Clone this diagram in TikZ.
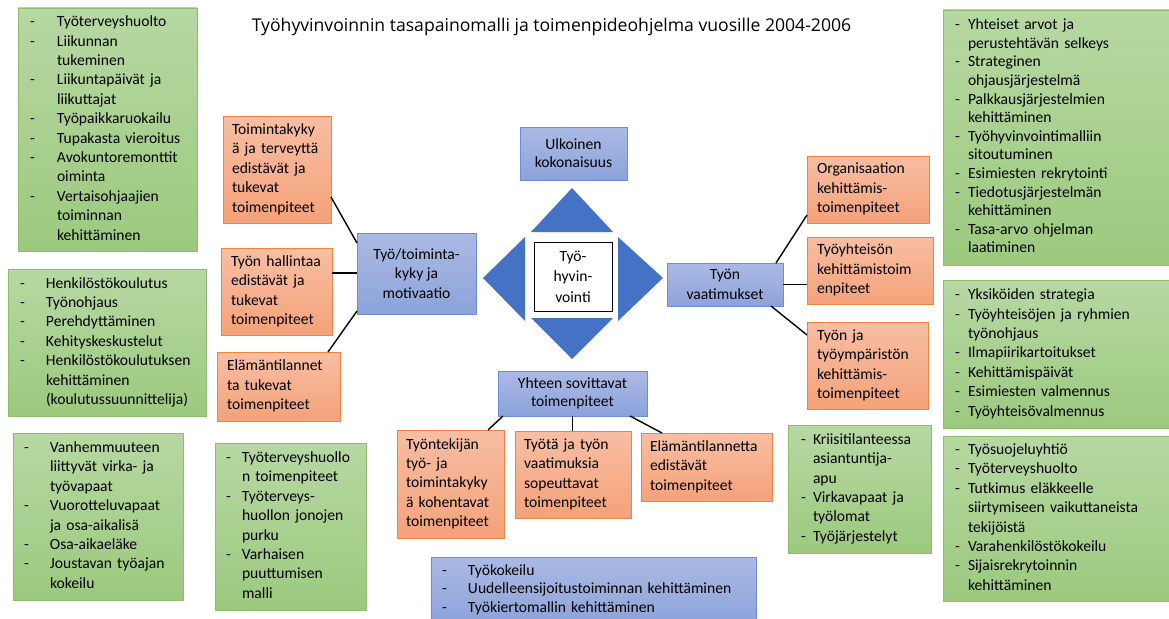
\documentclass[tikz,border=0pt]{standalone}
\usepackage{fontspec}
\setmainfont{Carlito}
\newfontfamily\titlefont{Open Sans}
\usetikzlibrary{calc}

\definecolor{grTop}{HTML}{B6D8A2}
\definecolor{grBot}{HTML}{9CC97E}
\definecolor{grLine}{HTML}{8DBE6E}
\definecolor{orTop}{HTML}{F8BEA3}
\definecolor{orBot}{HTML}{F4A279}
\definecolor{orLine}{HTML}{EF8440}
\definecolor{blTop}{HTML}{ABBAE4}
\definecolor{blBot}{HTML}{8CA3DA}
\definecolor{blLine}{HTML}{6D8DD3}
\definecolor{triFill}{HTML}{4472C4}

\newcommand\bodyfont{\fontsize{15.6}{19.4}\selectfont}
% list with a hanging dash column
\newcommand\dashlist[2]{\begin{tabular}{@{}p{#1}@{}l@{}}#2\end{tabular}}
\newcommand\lines[1]{\begin{tabular}{@{}l@{}}#1\end{tabular}}

\tikzset{
  box/.style={rectangle, inner ysep=0pt, outer sep=0pt, font=\bodyfont, line width=0.9pt},
  greenbox/.style={box, top color=grTop, bottom color=grBot, draw=grLine, align=left},
  orangebox/.style={box, top color=orTop, bottom color=orBot, draw=orLine, align=left},
  bluebox/.style={box, top color=blTop, bottom color=blBot, draw=blLine, align=center, inner xsep=2pt},
  corebox/.style={box, fill=white, draw=black, line width=0.8pt, align=center, inner xsep=2pt,
                  font=\fontsize{15.6}{20.5}\selectfont},
  conn/.style={draw=black, line width=1.4pt},
  tri/.style={fill=triFill},
}

\begin{document}
\begin{tikzpicture}[x=1pt,y=-1pt]
\useasboundingbox (0,0) rectangle (1169,618);
\fill[white] (0,0) rectangle (1169,618);

% title
\node[font=\titlefont\fontsize{17.6}{20}\selectfont] (title) at (551.5,27)
  {Työhyvinvoinnin tasapainomalli ja toimenpideohjelma vuosille 2004-2006};

% ---------- centre ----------
\fill[tri] (572,188) -- (531,232) -- (613,232) -- cycle;
\fill[tri] (572,359) -- (531,318) -- (613,318) -- cycle;
\fill[tri] (483,278) -- (525,237) -- (525,321) -- cycle;
\fill[tri] (663,278) -- (618,237) -- (618,321) -- cycle;
\node[corebox, minimum width=78, minimum height=69] (core) at (573,276.5) {Työ-\\hyvin-\\vointi};

% ---------- blue headings ----------
\node[bluebox, minimum width=107, minimum height=53, font=\fontsize{15.6}{18}\selectfont] (uk) at (573.5,153.5) {Ulkoinen\\kokonaisuus};
\node[bluebox, minimum width=119, minimum height=81] (bl) at (416.5,273.5) {Työ/toiminta-\\kyky ja\\motivaatio};
\node[bluebox, minimum width=116, minimum height=43] (br) at (725,284.5) {Työn\\vaatimukset};
\node[bluebox, minimum width=149, minimum height=45, font=\fontsize{15.6}{18.5}\selectfont] (yh) at (572.5,393.5) {Yhteen sovittavat\\toimenpiteet};

% ---------- orange measures ----------
\node[orangebox, minimum width=108, minimum height=107, text width=90, inner xsep=9] (o1) at (277,169.5)
  {\lines{Toimintakyky\\ä ja terveyttä\\edistävät ja\\tukevat\\toimenpiteet}};
\node[orangebox, minimum width=111, minimum height=87, text width=91, inner xsep=10] (o2) at (276.5,291.5)
  {\lines{Työn hallintaa\\edistävät ja\\tukevat\\toimenpiteet}};
\node[orangebox, minimum width=123, minimum height=69, text width=103, inner xsep=10] (o3) at (278.5,386.5)
  {\lines{Elämäntilannet\\ta tukevat\\toimenpiteet}};

\node[orangebox, minimum width=122, minimum height=67, text width=102, inner xsep=10] (r1) at (868,189.5)
  {\lines{Organisaation\\kehittämis-\\toimenpiteet}};
\node[orangebox, minimum width=126, minimum height=67, text width=106, inner xsep=10] (r2) at (870,270.5)
  {\lines{Työyhteisön\\kehittämistoim\\enpiteet}};
\node[orangebox, minimum width=121, minimum height=87, text width=101, inner xsep=10] (r3) at (867.5,365.5)
  {\lines{Työn ja\\työympäristön\\kehittämis-\\toimenpiteet}};

\node[orangebox, minimum width=107, minimum height=108, text width=89, inner xsep=9] (b1) at (450.5,484)
  {\lines{Työntekijän\\työ- ja\\toimintakyky\\ä kohentavat\\toimenpiteet}};
\node[orangebox, minimum width=116, minimum height=87, text width=98, inner xsep=9] (b2) at (573,474.5)
  {\lines{Työtä ja työn\\vaatimuksia\\sopeuttavat\\toimenpiteet}};
\node[orangebox, minimum width=131, minimum height=68, text width=113, inner xsep=9] (b3) at (706.5,467)
  {\lines{Elämäntilannetta\\edistävät\\toimenpiteet}};

% ---------- connectors ----------
\draw[conn] ([yshift=-27.5pt]o1.east) -- ([yshift=30.5pt]bl.west);
\draw[conn] ([yshift=18.5pt]o2.east) -- ([yshift=18.5pt]o2.east -| bl.west);
\draw[conn] ([xshift=-12pt]o3.north east) -- ([yshift=3pt]bl.south west);
\draw[conn] ([xshift=-7pt]br.north east) -- ([yshift=-25.5pt]r1.west);
\draw[conn] (br.east) -- (br.east -| r2.west);
\draw[conn] ([xshift=-12pt]br.south east) -- ([yshift=30.5pt]r3.west);
\draw[conn] ([xshift=5pt]yh.south west) -- ([xshift=-16pt]b1.north east);
\draw[conn] (yh.south) -- (yh.south |- b2.north);
\draw[conn] ([xshift=-17pt]yh.south east) -- ([xshift=21pt]b3.north west);

% ---------- green lists, left ----------
\node[greenbox, minimum width=179, minimum height=243, text width=155, inner xsep=12] (l1) at (107.5,129.5)
  {\dashlist{27pt}{- & Työterveyshuolto\\ - & Liikunnan\\ & tukeminen\\ - & Liikuntapäivät ja\\ & liikuttajat\\
   - & Työpaikkaruokailu\\ - & Tupakasta vieroitus\\ - & Avokuntoremonttit\\ & oiminta\\
   - & Vertaisohjaajien\\ & toiminnan\\ & kehittäminen}};
\node[greenbox, minimum width=198, minimum height=147, text width=174, inner xsep=12] (l2) at (107,342.5)
  {\dashlist{26pt}{- & Henkilöstökoulutus\\ - & Työnohjaus\\ - & Perehdyttäminen\\ - & Kehityskeskustelut\\
   - & Henkilöstökoulutuksen\\ & kehittäminen\\ & (koulutussuunnittelija)}};
\node[greenbox, minimum width=170, minimum height=167, text width=148, inner xsep=11] (l3) at (98,516.5)
  {\dashlist{26pt}{- & Vanhemmuuteen\\ & liittyvät virka- ja\\ & työvapaat\\ - & Vuorotteluvapaat\\
   & ja osa-aikalisä\\ - & Osa-aikaeläke\\ - & Joustavan työajan\\ & kokeilu}};
\node[greenbox, minimum width=151, minimum height=167, text width=129, inner xsep=11] (g1) at (290.5,526.5)
  {\dashlist{16pt}{- & Työterveyshuollo\\ & n toimenpiteet\\ - & Työterveys-\\ & huollon jonojen\\ & purku\\
   - & Varhaisen\\ & puuttumisen\\ & malli}};

% ---------- green lists, right ----------
\node[greenbox, minimum width=143, minimum height=128, text width=117, inner xsep=13] (k1) at (859.5,489)
  {\dashlist{12pt}{- & Kriisitilanteessa\\ & asiantuntija-\\ & apu\\ - & Virkavapaat ja\\ & työlomat\\ - & Työjärjestelyt}};
\node[greenbox, minimum width=237, minimum height=255, text width=213, inner xsep=12,
      font=\fontsize{15.6}{18.6}\selectfont] (rg1) at (1061.5,137.5)
  {\dashlist{13pt}{- & Yhteiset arvot ja\\ & perustehtävän selkeys\\ - & Strateginen\\ & ohjausjärjestelmä\\
   - & Palkkausjärjestelmien\\ & kehittäminen\\ - & Työhyvinvointimalliin\\ & sitoutuminen\\
   - & Esimiesten rekrytointi\\ - & Tiedotusjärjestelmän\\ & kehittäminen\\ - & Tasa-arvo ohjelman\\ & laatiminen}};
\node[greenbox, minimum width=237, minimum height=148, text width=213, inner xsep=12] (rg2) at (1061.5,354)
  {\dashlist{13pt}{- & Yksiköiden strategia\\ - & Työyhteisöjen ja ryhmien\\ & työnohjaus\\ - & Ilmapiirikartoitukset\\
   - & Kehittämispäivät\\ - & Esimiesten valmennus\\ - & Työyhteisövalmennus}};
\node[greenbox, minimum width=237, minimum height=165, text width=213, inner xsep=12] (rg3) at (1061.5,518.5)
  {\dashlist{13pt}{- & Työsuojeluyhtiö\\ - & Työterveyshuolto\\ - & Tutkimus eläkkeelle\\ & siirtymiseen vaikuttaneista\\
   & tekijöistä\\ - & Varahenkilöstökokeilu\\ - & Sijaisrekrytoinnin\\ & kehittäminen}};

% ---------- blue list, bottom ----------
\node[box, top color=blTop, bottom color=blBot, draw=blLine, align=left,
      minimum width=325, minimum height=66, text width=303, inner xsep=11,
      font=\fontsize{15.6}{18.5}\selectfont] (bb) at (593.5,590)
  {\dashlist{26pt}{- & Työkokeilu\\ - & Uudelleensijoitustoiminnan kehittäminen\\ - & Työkiertomallin kehittäminen}};
\end{tikzpicture}
\end{document}
